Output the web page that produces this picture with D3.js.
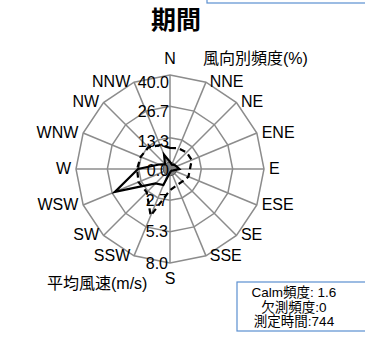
<!DOCTYPE html>
<html>
<head>
<meta charset="utf-8">
<script src="https://d3js.org/d3.v7.min.js"></script>
<style>
body { margin: 0; background: #fff; }
text { font-family: "Liberation Sans", "Noto Sans CJK JP", sans-serif; fill: #000; }
</style>
</head>
<body>
<div id="chart"></div>
<script>
var width = 365, height = 339;

var directions = ["N", "NNE", "NE", "ENE", "E", "ESE", "SE", "SSE",
                  "S", "SSW", "SW", "WSW", "W", "WNW", "NW", "NNW"];
// 風向別頻度 (%)
var freq = [3.0, 2.0, 2.5, 3.0, 4.0, 1.5, 1.0, 1.0,
            1.5, 7.4, 8.7, 25.4, 13.6, 5.0, 3.0, 6.6];
// 平均風速 (m/s)
var speed = [1.8, 1.9, 2.0, 2.0, 1.7, 1.7, 1.5, 1.5,
             1.8, 4.3, 2.8, 2.9, 2.8, 2.7, 2.6, 2.2];
var calm = 1.6;
var freqTicks = ["0.0", "13.3", "26.7", "40.0"];
var speedTicks = ["2.7", "5.3", "8.0"];
var infoLines = ["Calm頻度: 1.6", "欠測頻度:0", "測定時間:744"];

var cx = 170, cy = 169, R = 94;

var svg = d3.select("#chart").append("svg")
  .attr("width", width)
  .attr("height", height);

var rFreq = d3.scaleLinear().domain([0, 40]).range([0, R]);
var rSpeed = d3.scaleLinear().domain([0, 8]).range([0, R]);
var angle = d3.scalePoint().domain(directions).range([0, 2 * Math.PI * 15 / 16]);

function pt(dir, r) {
  var a = angle(dir);
  return [cx + r * Math.sin(a), cy - r * Math.cos(a)];
}

// top-right box partly visible
svg.append("rect")
  .attr("x", 207).attr("y", -10).attr("width", 170).attr("height", 13)
  .attr("fill", "none").attr("stroke", "#5b8fd0").attr("stroke-width", 1.2);

svg.append("text")
  .attr("x", 176).attr("y", 29)
  .attr("text-anchor", "middle")
  .style("font-size", "25px").style("font-weight", "bold")
  .text("期間");

// grid
var g = svg.append("g");
[1, 2, 3].forEach(function (k) {
  var r = rFreq(k * 40 / 3);
  g.append("polygon")
    .attr("points", directions.map(function (d) { return pt(d, r).join(","); }).join(" "))
    .attr("fill", "none").attr("stroke", "#8c8c8c").attr("stroke-width", 1.5);
});
directions.forEach(function (d) {
  var p = pt(d, R);
  g.append("line")
    .attr("x1", cx).attr("y1", cy).attr("x2", p[0]).attr("y2", p[1])
    .attr("stroke", "#8c8c8c").attr("stroke-width", 1.5);
});

// calm (gray)
svg.append("polygon")
  .attr("points", directions.map(function (d) { return pt(d, rFreq(calm * 1.8)).join(","); }).join(" "))
  .attr("fill", "#808080").attr("stroke", "#555").attr("stroke-width", 1);

var line = d3.line().curve(d3.curveLinearClosed);

svg.append("path")
  .attr("d", line(directions.map(function (d, i) { return pt(d, rFreq(freq[i])); })))
  .attr("fill", "none").attr("stroke", "#000").attr("stroke-width", 2.2)
  .attr("stroke-linejoin", "miter");

svg.append("path")
  .attr("d", line(directions.map(function (d, i) { return pt(d, rSpeed(speed[i])); })))
  .attr("fill", "none").attr("stroke", "#000").attr("stroke-width", 2.2)
  .attr("stroke-dasharray", "6,4");

// frequency tick labels
freqTicks.forEach(function (t) {
  var r = rFreq(+t);
  svg.append("text")
    .attr("x", cx - 1).attr("y", cy - r * 0.93 + 1 + 5.7)
    .attr("text-anchor", "end")
    .style("font-size", "16px")
    .text(t);
});
// speed tick labels
speedTicks.forEach(function (t) {
  svg.append("text")
    .attr("x", cx - 2).attr("y", cy + rSpeed(+t) + 5.7)
    .attr("text-anchor", "end")
    .style("font-size", "16px")
    .text(t);
});

// direction labels
directions.forEach(function (d) {
  var a = angle(d);
  var p = pt(d, R);
  var s = Math.sin(a), c = Math.cos(a);
  var x = p[0], y = p[1] - 1, anchor = "middle";
  if (s > 0.2) { anchor = "start"; x += 3 + 2 * s; }
  else if (s < -0.2) { anchor = "end"; x -= 3 + 2 * Math.abs(s); }
  else { y = c > 0 ? p[1] - 17 : p[1] + 15; }
  svg.append("text")
    .attr("x", x).attr("y", y + 5.7)
    .attr("text-anchor", anchor)
    .style("font-size", "16px")
    .text(d);
});

svg.append("text")
  .attr("x", 203).attr("y", 64)
  .style("font-size", "16px")
  .text("風向別頻度(%)");

svg.append("text")
  .attr("x", 47).attr("y", 289)
  .style("font-size", "16px")
  .text("平均風速(m/s)");

// info box
svg.append("rect")
  .attr("x", 237).attr("y", 282).attr("width", 140).attr("height", 49)
  .attr("fill", "#fff").attr("stroke", "#5b8fd0").attr("stroke-width", 1.2);
infoLines.forEach(function (t, i) {
  svg.append("text")
    .attr("x", 294).attr("y", 297 + i * 14.5)
    .attr("text-anchor", "middle")
    .style("font-size", "13.5px")
    .text(t);
});
</script>
</body>
</html>
